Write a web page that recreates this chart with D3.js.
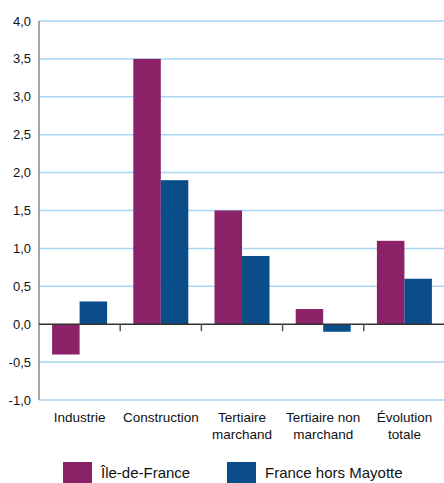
<!DOCTYPE html>
<html>
<head>
<meta charset="utf-8">
<script src="https://cdn.jsdelivr.net/npm/d3@7"></script>
<style>
  body { margin: 0; background: #fff; }
  text { font-family: "Liberation Sans", Arial, sans-serif; fill: #111; }
</style>
</head>
<body>
<script>
// chart data
var categories = [["Industrie"], ["Construction"], ["Tertiaire", "marchand"], ["Tertiaire non", "marchand"], ["Évolution", "totale"]];
var seriesNames = ["Île-de-France", "France hors Mayotte"];
var idfValues = [-0.4, 3.5, 1.5, 0.2, 1.1];
var franceValues = [0.3, 1.9, 0.9, -0.1, 0.6];
var yTicks = [-1, -0.5, 0, 0.5, 1, 1.5, 2, 2.5, 3, 3.5, 4];
var colors = ["#8b2166", "#0b4d89"];

(function(){
    var width = 444, height = 483;

    var svg = d3.select("body").append("svg")
        .attr("width", width)
        .attr("height", height);

    var left = 39, right = 445, top = 21, bottom = 400;

    var x = d3.scaleBand()
        .domain(d3.range(categories.length))
        .range([left, right]);

    var x1 = d3.scaleBand()
        .domain([0, 1])
        .range([0, 55]);

    var y = d3.scaleLinear()
        .domain([-1, 4])
        .range([bottom, top]);

    //gridlines
    svg.selectAll(".grid")
        .data(yTicks.filter(function(d){ return d !== 0; }))
        .enter()
        .append("line")
        .attr("x1", left)
        .attr("x2", width)
        .attr("y1", function(d){ return y(d); })
        .attr("y2", function(d){ return y(d); })
        .attr("stroke", "#a9d6f2")
        .attr("stroke-width", 1.5);

    //y labels
    var fmt = function(d){ return d.toFixed(1).replace(".", ","); };
    svg.selectAll(".ylab")
        .data(yTicks)
        .enter()
        .append("text")
        .attr("x", 31)
        .attr("y", function(d){ return y(d); })
        .attr("dy", "0.35em")
        .attr("text-anchor", "end")
        .attr("font-size", 13)
        .text(fmt);

    //left axis line
    svg.append("line")
        .attr("x1", left).attr("x2", left)
        .attr("y1", top).attr("y2", bottom)
        .attr("stroke", "#8a8a8a")
        .attr("stroke-width", 1.5);

    //bars
    var series = [idfValues, franceValues];
    series.forEach(function(vals, s){
        svg.selectAll(".bar" + s)
            .data(vals)
            .enter()
            .append("rect")
            .attr("x", function(d, i){ return x(i) + x.bandwidth() / 2 - 27.5 + x1(s); })
            .attr("width", x1.bandwidth())
            .attr("y", function(d){ return y(Math.max(0, d)); })
            .attr("height", function(d){ return Math.abs(y(d) - y(0)); })
            .attr("fill", colors[s]);
    });

    //zero line with ticks between categories
    svg.append("line")
        .attr("x1", left).attr("x2", width)
        .attr("y1", y(0)).attr("y2", y(0))
        .attr("stroke", "#333")
        .attr("stroke-width", 1.5);

    svg.selectAll(".tick")
        .data(d3.range(1, categories.length))
        .enter()
        .append("line")
        .attr("x1", function(d){ return x(d); })
        .attr("x2", function(d){ return x(d); })
        .attr("y1", y(0))
        .attr("y2", y(0) + 7)
        .attr("stroke", "#555")
        .attr("stroke-width", 1.5);

    //category labels
    var cat = svg.selectAll(".cat")
        .data(categories)
        .enter()
        .append("text")
        .attr("text-anchor", "middle")
        .attr("font-size", 13.5);

    cat.selectAll("tspan")
        .data(function(d, i){ return d.map(function(t){ return { t: t, i: i }; }); })
        .enter()
        .append("tspan")
        .attr("x", function(d){ return x(d.i) + x.bandwidth() / 2; })
        .attr("y", function(d, j){ return 422 + j * 17; })
        .text(function(d){ return d.t; });

    //legend
    var legendX = [63, 227];
    seriesNames.forEach(function(name, s){
        svg.append("rect")
            .attr("x", legendX[s])
            .attr("y", 462)
            .attr("width", 29)
            .attr("height", 22)
            .attr("fill", colors[s]);
        svg.append("text")
            .attr("x", legendX[s] + 38)
            .attr("y", 478)
            .attr("font-size", 15)
            .text(name);
    });
})();
</script>
</body>
</html>
